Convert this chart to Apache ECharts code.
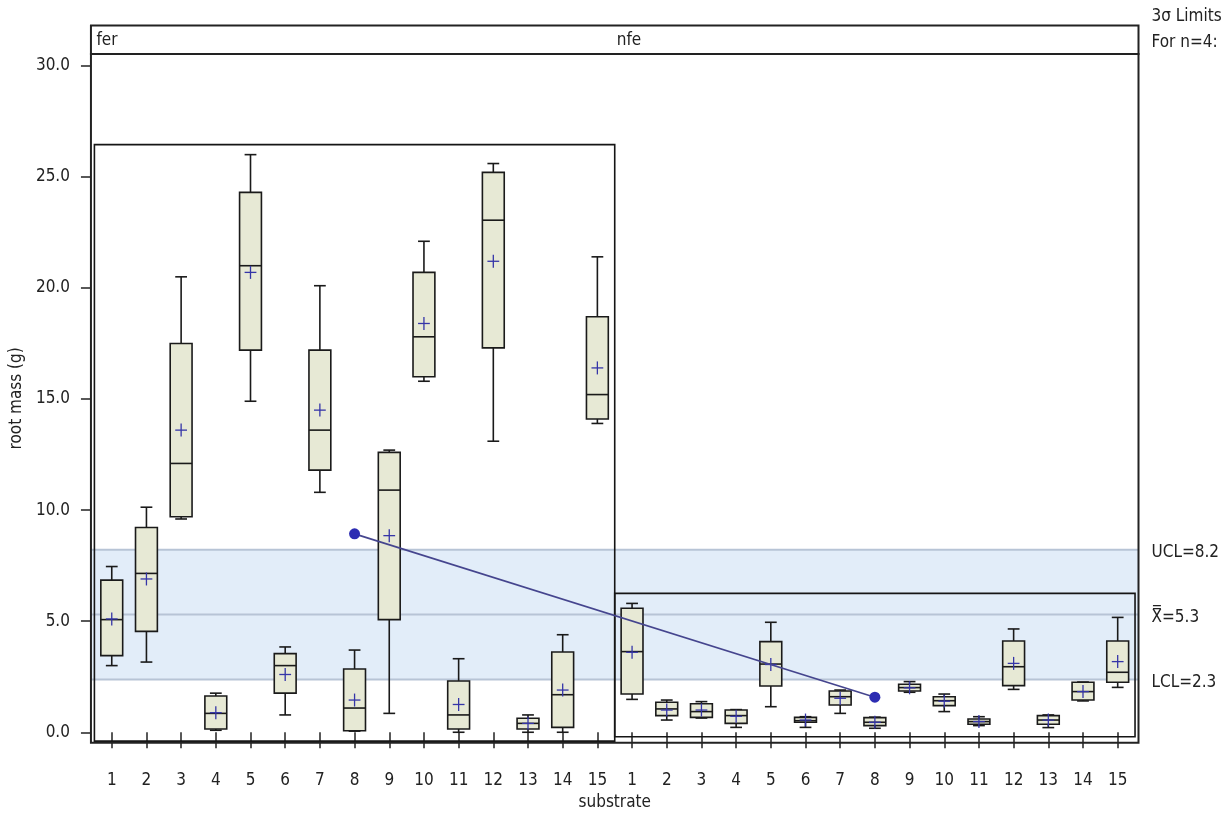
<!DOCTYPE html>
<html><head><meta charset="utf-8">
<script src="https://cdn.jsdelivr.net/npm/echarts@6/dist/echarts.min.js"></script>
<style>html,body{margin:0;padding:0;background:#fff}#c{width:1223px;height:835px}</style>
</head><body><div id="c"></div>
<script>
// ---------- data ----------
const groups = ['fer', 'nfe'];
const substrates = ['1','2','3','4','5','6','7','8','9','10','11','12','13','14','15'];

const ferMin    = [3.0, 3.16, 9.6, 0.09, 14.9, 0.78, 10.8, 0.05, 0.85, 15.8, 0.0, 13.1, 0.0, 0.0, 13.9];
const ferQ1     = [3.45, 4.54, 9.7, 0.15, 17.2, 1.76, 11.8, 0.07, 5.07, 16.0, 0.15, 17.3, 0.15, 0.22, 14.1];
const ferMedian = [5.07, 7.15, 12.1, 0.85, 21.0, 3.0, 13.6, 1.09, 10.9, 17.8, 0.78, 23.05, 0.4, 1.69, 15.2];
const ferQ3     = [6.85, 9.22, 17.5, 1.63, 24.3, 3.54, 17.2, 2.85, 12.6, 20.7, 2.31, 25.2, 0.63, 3.61, 18.7];
const ferMax    = [7.46, 10.13, 20.5, 1.76, 26.0, 3.84, 20.1, 3.7, 12.7, 22.1, 3.31, 25.6, 0.78, 4.39, 21.4];
const ferMean   = [5.1, 6.9, 13.6, 0.88, 20.7, 2.6, 14.5, 1.45, 8.85, 18.4, 1.25, 21.2, 0.4, 1.9, 16.4];

const nfeMin    = [1.48, 0.55, 0.64, 0.22, 1.15, 0.22, 0.85, 0.18, 1.8, 0.93, 0.3, 1.93, 0.21, 1.41, 2.02];
const nfeQ1     = [1.72, 0.75, 0.67, 0.40, 2.08, 0.45, 1.23, 0.30, 1.86, 1.2, 0.36, 2.10, 0.36, 1.45, 2.25];
const nfeMedian = [3.63, 1.05, 0.93, 0.75, 3.07, 0.52, 1.6, 0.45, 2.01, 1.42, 0.48, 2.95, 0.55, 1.83, 2.70];
const nfeQ3     = [5.58, 1.35, 1.28, 1.0, 4.08, 0.67, 1.86, 0.66, 2.16, 1.6, 0.6, 4.11, 0.75, 2.25, 4.11];
const nfeMax    = [5.80, 1.45, 1.38, 1.02, 4.95, 0.70, 1.9, 0.68, 2.28, 1.72, 0.7, 4.65, 0.78, 2.26, 5.17];
const nfeMean   = [3.6, 1.0, 1.0, 0.72, 3.05, 0.55, 1.53, 0.45, 2.0, 1.4, 0.48, 3.1, 0.55, 1.83, 3.18];

const groupMeans = [8.93, 1.58];        // subgroup means (line chart)
const groupMeanSubstrate = ['8', '8'];  // substrate where each group mean is plotted
const blockLow  = [-0.4, -0.2];
const blockHigh = [26.45, 6.25];

const limitValues = [8.22, 5.3, 2.37];
const limitLabels = ['UCL=8.2', 'X\u033F=5.3', 'LCL=2.3'];
const yTickValues = [0, 5, 10, 15, 20, 25, 30];
const limitsNote = ['3\u03C3 Limits', 'For n=4:'];

// ---------- layout ----------
const FONT = "'Liberation Sans Narrow','DejaVu Sans Condensed','Arial Narrow',sans-serif";
const TXT = '#222';
const G = {left: 88, right: 84.5, top: 54, bottom: 92.3};

const stats = [
  [ferMin, ferQ1, ferMedian, ferQ3, ferMax, ferMean],
  [nfeMin, nfeQ1, nfeMedian, nfeQ3, nfeMax, nfeMean]
];
const boxData = [];
groups.forEach((g, gi) => {
  substrates.forEach((s, si) => {
    const st = stats[gi];
    boxData.push([gi * 15 + si + 1, st[0][si], st[1][si], st[2][si], st[3][si], st[4][si], st[5][si]]);
  });
});
const xPositions = boxData.map(d => d[0]);
const meanLine = groups.map((g, gi) => [gi * 15 + substrates.indexOf(groupMeanSubstrate[gi]) + 1, groupMeans[gi]]);
const blockData = groups.map((g, gi) => [gi * 15 + 0.5, gi * 15 + 15.5, blockLow[gi], blockHigh[gi]]);

function renderBox(params, api) {
  const x = api.value(0);
  const band = api.size([1, 0])[0];
  const half = band * 0.315, cap = band * 0.17, pl = band * 0.17;
  const pMin = api.coord([x, api.value(1)]);
  const pQ1 = api.coord([x, api.value(2)]);
  const pMed = api.coord([x, api.value(3)]);
  const pQ3 = api.coord([x, api.value(4)]);
  const pMax = api.coord([x, api.value(5)]);
  const pMean = api.coord([x, api.value(6)]);
  const cx = pMed[0];
  const ls = {stroke: '#1a1a1a', lineWidth: 1.6};
  const ms = {stroke: '#3535a8', lineWidth: 1.3};
  return {type: 'group', children: [
    {type: 'line', shape: {x1: cx, y1: pMax[1], x2: cx, y2: pQ3[1]}, style: ls},
    {type: 'line', shape: {x1: cx - cap, y1: pMax[1], x2: cx + cap, y2: pMax[1]}, style: ls},
    {type: 'line', shape: {x1: cx, y1: pMin[1], x2: cx, y2: pQ1[1]}, style: ls},
    {type: 'line', shape: {x1: cx - cap, y1: pMin[1], x2: cx + cap, y2: pMin[1]}, style: ls},
    {type: 'rect', shape: {x: cx - half, y: pQ3[1], width: 2 * half, height: pQ1[1] - pQ3[1]},
      style: {fill: '#e7e9d5', stroke: '#1a1a1a', lineWidth: 1.6}},
    {type: 'line', shape: {x1: cx - half, y1: pMed[1], x2: cx + half, y2: pMed[1]}, style: ls},
    {type: 'line', shape: {x1: cx - pl, y1: pMean[1], x2: cx + pl, y2: pMean[1]}, style: ms},
    {type: 'line', shape: {x1: cx, y1: pMean[1] - 6.5, x2: cx, y2: pMean[1] + 6.5}, style: ms}
  ]};
}

function renderBlock(params, api) {
  const a = api.coord([api.value(0), api.value(3)]);
  const b = api.coord([api.value(1), api.value(2)]);
  return {type: 'rect', shape: {x: a[0], y: a[1], width: b[0] - a[0], height: b[1] - a[1]},
    style: {fill: null, stroke: '#151515', lineWidth: 1.6}};
}

function renderBand(params, api) {
  const cs = params.coordSys;
  const yTop = api.coord([1, api.value(1)])[1];
  const yBot = api.coord([1, api.value(0)])[1];
  return {type: 'rect', shape: {x: cs.x, y: yTop, width: cs.width, height: yBot - yTop},
    style: {fill: '#e2edf9'}};
}

function renderLimit(params, api) {
  const cs = params.coordSys;
  const y = api.coord([1, api.value(0)])[1];
  return {type: 'group', children: [
    {type: 'line', shape: {x1: cs.x, y1: y, x2: cs.x + cs.width, y2: y},
      style: {stroke: '#b7c4d6', lineWidth: 2}},
    {type: 'text', x: cs.x + cs.width + 13, y: y + 3,
      style: {text: limitLabels[params.dataIndex], fill: TXT, fontSize: 17, fontFamily: FONT,
        verticalAlign: 'middle', align: 'left'}}
  ]};
}

const chart = echarts.init(document.getElementById('c'), null, {renderer: 'canvas'});
const option = {
  animation: false,
  backgroundColor: '#fff',
  textStyle: {fontFamily: FONT},
  grid: {left: G.left, right: G.right, top: G.top, bottom: G.bottom, show: true,
    borderColor: '#222', borderWidth: 2, backgroundColor: 'transparent', z: 10},
  xAxis: {
    type: 'value', min: 0.4, max: 30.6,
    name: 'substrate', nameLocation: 'middle', nameGap: 49,
    nameTextStyle: {fontSize: 17, color: TXT, fontFamily: FONT},
    axisLine: {show: false},
    splitLine: {show: false},
    axisTick: {show: true, length: 16, inside: false, customValues: xPositions,
      lineStyle: {color: '#222', width: 1.5}},
    axisLabel: {customValues: xPositions, margin: 29, fontSize: 17, color: TXT, fontFamily: FONT,
      formatter: v => substrates[(Math.round(v) - 1) % 15]}
  },
  yAxis: {
    type: 'value', min: -0.47, max: 30.53,
    name: 'root mass (g)', nameLocation: 'middle', nameGap: 54, nameRotate: 90,
    nameTextStyle: {fontSize: 17, color: TXT, fontFamily: FONT},
    axisLine: {show: false},
    splitLine: {show: false},
    axisTick: {show: true, length: 10, customValues: yTickValues, lineStyle: {color: '#222', width: 1.5}},
    axisLabel: {customValues: yTickValues, margin: 21, fontSize: 17, color: TXT, fontFamily: FONT,
      formatter: v => v.toFixed(1)}
  },
  series: [
    {type: 'custom', name: 'band', z: 1, clip: false, renderItem: renderBand,
      encode: {x: -1, y: [0, 1]},
      data: [[limitValues[2], limitValues[0]]], silent: true},
    {type: 'custom', name: 'limits', z: 2, clip: false, renderItem: renderLimit,
      encode: {y: 0}, data: limitValues.map(v => [v]), silent: true},
    {type: 'custom', name: 'boxes', z: 3, renderItem: renderBox,
      encode: {x: 0, y: [1, 2, 3, 4, 5, 6]}, data: boxData},
    {type: 'custom', name: 'blocks', z: 4, clip: false, renderItem: renderBlock,
      encode: {x: [0, 1], y: [2, 3]}, data: blockData},
    {type: 'line', name: 'means', z: 5, data: meanLine, symbol: 'circle', symbolSize: 11,
      itemStyle: {color: '#2c2cb2'}, lineStyle: {color: '#45458e', width: 1.6}}
  ]
};
chart.setOption(option);

// strip with group names and note on the right
const xStart = chart.convertToPixel({xAxisIndex: 0}, 0.4);
const xEnd = chart.convertToPixel({xAxisIndex: 0}, 30.6);
const stripTop = 25.5;
const graphics = [
  {type: 'rect', shape: {x: xStart, y: stripTop, width: xEnd - xStart, height: G.top - stripTop},
    style: {fill: '#fff', stroke: '#222', lineWidth: 2}, z: 20}
];
groups.forEach((g, gi) => {
  const gx = chart.convertToPixel({xAxisIndex: 0}, gi * 15 + 0.5);
  graphics.push({type: 'text', x: gx + 2, y: (stripTop + G.top) / 2 + 1, z: 21,
    style: {text: g, fill: TXT, fontSize: 17, fontFamily: FONT, verticalAlign: 'middle'}});
});
limitsNote.forEach((t, i) => {
  graphics.push({type: 'text', x: xEnd + 13, y: 17 + i * 26, z: 21,
    style: {text: t, fill: TXT, fontSize: 17, fontFamily: FONT, verticalAlign: 'middle'}});
});
chart.setOption({graphic: graphics});
</script>
</body></html>
